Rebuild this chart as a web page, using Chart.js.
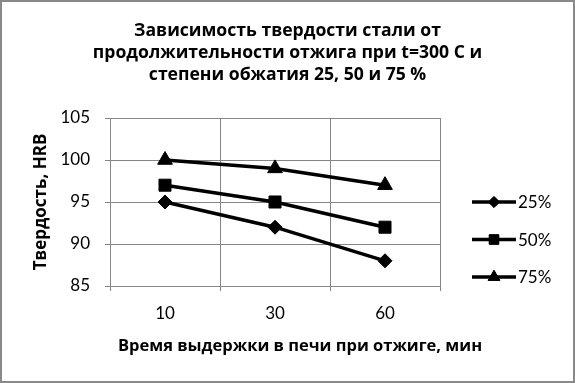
<!DOCTYPE html>
<html>
<head>
<meta charset="utf-8">
<script src="https://cdn.jsdelivr.net/npm/chart.js@4"></script>
<style>
html,body{margin:0;padding:0;background:#fff;}
#wrap{position:relative;width:575px;height:383px;}
</style>
</head>
<body>
<div id="wrap"><canvas id="c" width="575" height="383"></canvas></div>
<script>
const titleLines = ["Зависимость твердости стали от", "продолжительности отжига при t=300 С и", "степени обжатия 25, 50 и 75 %"];
const categories = ["10", "30", "60"];
const seriesNames = ["25%", "50%", "75%"];
const series25 = [95, 92, 88];
const series50 = [97, 95, 92];
const series75 = [100, 99, 97];
const pointStyles = ["rectRot", "rect", "triangle"];
const yTitle = "Твердость, HRB";
const xTitle = "Время выдержки в печи при отжиге, мин";
const yMin = 85, yMax = 105, yStep = 5;

const FONT = "Lato, 'Open Sans', sans-serif";
const BFONT = "'Open Sans', Lato, sans-serif";
const GRID = "#868686";
const pointRadii = [7, 8.5, 8.5];

const overlayPlugin = {
  id: 'customOverlay',
  afterDraw(chart) {
    const ctx = chart.ctx;
    ctx.save();
    // x axis title
    ctx.fillStyle = '#000';
    ctx.font = "bold 16.5px " + BFONT;
    ctx.textAlign = 'center';
    ctx.textBaseline = 'middle';
    ctx.fillText(xTitle, 300, 346);
    // legend
    chart.data.datasets.forEach((ds, i) => {
      const y = 202 + i * 37.5;
      ctx.strokeStyle = '#000';
      ctx.lineWidth = 3.5;
      ctx.beginPath();
      ctx.moveTo(472, y);
      ctx.lineTo(516, y);
      ctx.stroke();
      ctx.fillStyle = '#000';
      ctx.lineWidth = 1;
      Chart.helpers.drawPoint(ctx, {pointStyle: ds.pointStyle, radius: ds.pointRadius * 0.8, borderWidth: 1, rotation: 0}, 494, y);
      ctx.fill();
      ctx.fillStyle = '#000';
      ctx.font = "17px " + FONT;
      ctx.textBaseline = 'middle';
      ctx.textAlign = 'left';
      ctx.fillText(ds.label, 518, y + 1);
    });
    ctx.strokeStyle = '#898989';
    ctx.lineWidth = 2;
    ctx.strokeRect(1, 1, 573, 381);
    ctx.restore();
  }
};

const values = [series25, series50, series75];
new Chart(document.getElementById('c'), {
  type: 'line',
  data: {
    labels: categories,
    datasets: seriesNames.map((name, i) => ({
      label: name,
      data: values[i],
      borderColor: '#000',
      backgroundColor: '#000',
      borderWidth: 3.5,
      pointStyle: pointStyles[i],
      pointRadius: pointRadii[i],
      pointBorderWidth: 1,
      pointBackgroundColor: '#000',
      pointBorderColor: '#000',
      tension: 0
    }))
  },
  options: {
    responsive: false,
    animation: false,
    layout: { padding: 0 },
    plugins: {
      legend: { display: false },
      tooltip: { enabled: false },
      title: {
        display: true,
        text: titleLines,
        color: '#000',
        font: { family: BFONT, size: 17.6, weight: 'bold', lineHeight: 1.25 },
        padding: { top: 20, bottom: 32 }
      }
    },
    scales: {
      x: {
        offset: true,
        grid: { offset: true, color: GRID, tickColor: GRID, tickLength: 5, lineWidth: 1 },
        border: { color: GRID, width: 1 },
        ticks: { color: '#000', font: { family: FONT, size: 17 }, padding: 12, maxRotation: 0 },
        title: { display: false },
        afterFit(scale) { scale.height = 97; }
      },
      y: {
        min: yMin, max: yMax,
        grid: { color: GRID, tickColor: GRID, tickLength: 5, lineWidth: 1 },
        border: { color: GRID, width: 1 },
        ticks: { stepSize: yStep, color: '#000', font: { family: FONT, size: 17 }, padding: 15 },
        title: { display: true, text: yTitle, color: '#000', font: { family: BFONT, size: 17, weight: 'bold', lineHeight: 1.2 }, padding: { top: 31, bottom: 0 } },
        afterFit(scale) { scale.width = 110; }
      },
      legendSpace: {
        type: 'linear',
        position: 'right',
        min: yMin, max: yMax,
        display: true,
        grid: { display: false, drawTicks: false },
        border: { display: false },
        ticks: { display: false },
        afterFit(scale) { scale.width = 135; }
      }
    }
  },
  plugins: [overlayPlugin]
});
</script>
</body>
</html>
